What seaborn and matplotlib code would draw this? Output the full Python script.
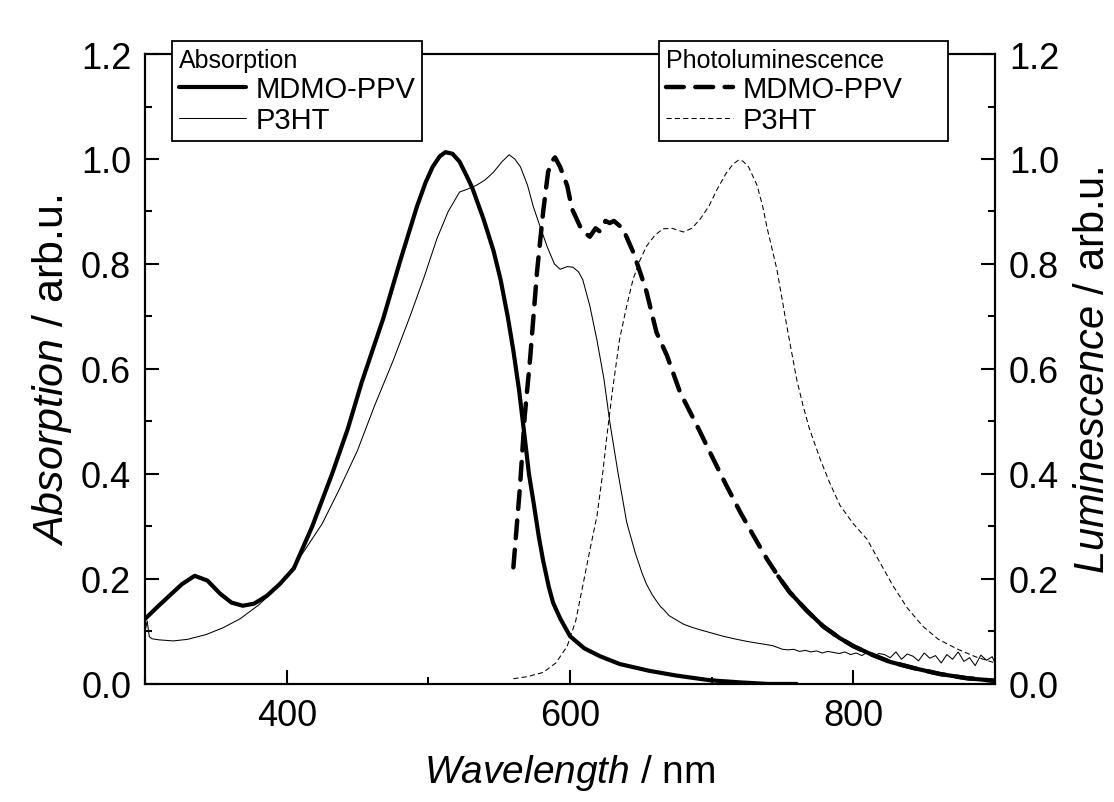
import matplotlib
matplotlib.use("Agg")
import matplotlib.pyplot as plt
import seaborn as sns
import numpy as np
import pandas as pd
from matplotlib.ticker import MultipleLocator, FormatStrFormatter

# ---------------- data ----------------
mdmo_abs_x = [300, 310, 318, 326, 335, 344, 353, 361, 369, 377, 386, 395, 405, 418, 432,
              443, 453, 468, 480, 492, 498, 503, 508, 512, 517, 522, 527, 531, 539, 546,
              551, 556, 560, 564, 568, 571, 574, 578, 581, 585, 588, 593, 600, 610, 621,
              635, 656, 675, 699, 720, 740, 760]
mdmo_abs_y = [0.124, 0.15, 0.17, 0.19, 0.206, 0.197, 0.172, 0.155, 0.149, 0.153, 0.168,
              0.19, 0.22, 0.30, 0.40, 0.485, 0.575, 0.695, 0.805, 0.91, 0.955, 0.985,
              1.005, 1.013, 1.01, 0.995, 0.968, 0.945, 0.885, 0.825, 0.77, 0.70, 0.635,
              0.56, 0.47, 0.40, 0.35, 0.28, 0.235, 0.185, 0.155, 0.125, 0.091, 0.068,
              0.053, 0.038, 0.025, 0.016, 0.007, 0.003, 0.0, 0.0]

p3ht_abs_x = [300, 301.5, 303, 305, 310, 320, 330, 343, 355, 367, 380, 390, 400, 412, 425,
              437, 450, 462, 475, 487, 497, 506, 514, 522, 528, 534, 540, 546, 552, 557,
              561, 565, 570, 574, 579, 584, 589, 593, 598, 602, 606, 609, 614, 619, 624,
              628, 634, 640, 646, 651, 654, 656, 658, 661, 664, 666, 670, 675, 680, 686,
              692, 700, 708, 716, 725, 734, 743,
              750, 754, 758, 762, 766, 770, 774, 778, 782, 786, 790, 794, 798, 802, 806,
              810, 814, 818, 822, 826, 830, 834, 838, 842, 846, 850, 854, 858, 862, 866,
              870, 874, 878, 882, 886, 890, 894, 898, 900]
p3ht_abs_y = [0.10, 0.12, 0.09, 0.086, 0.084, 0.082, 0.085, 0.094, 0.107, 0.124, 0.15,
              0.175, 0.205, 0.252, 0.305, 0.37, 0.445, 0.53, 0.615, 0.70, 0.775, 0.848,
              0.90, 0.937, 0.943, 0.95, 0.96, 0.975, 0.995, 1.008, 1.0, 0.985, 0.95, 0.91,
              0.87, 0.832, 0.80, 0.79, 0.795, 0.794, 0.785, 0.77, 0.72, 0.655, 0.58, 0.50,
              0.40, 0.308, 0.25, 0.21, 0.19, 0.18, 0.17, 0.158, 0.147, 0.142, 0.13, 0.122,
              0.114, 0.108, 0.103, 0.097, 0.091, 0.086, 0.081, 0.077, 0.073,
              0.066, 0.065, 0.066, 0.062, 0.064, 0.061, 0.063, 0.059, 0.062, 0.060, 0.058,
              0.061, 0.056, 0.059, 0.054, 0.061, 0.052, 0.058, 0.056, 0.050, 0.061, 0.047,
              0.057, 0.053, 0.044, 0.059, 0.049, 0.054, 0.040, 0.056, 0.047, 0.061, 0.043,
              0.050, 0.035, 0.055, 0.045, 0.052, 0.040]

mdmo_pl_x = [560, 564.7, 568, 571.8, 576.7, 581, 584.5, 587, 589.4, 593, 598, 601.4, 607,
             611, 614, 618, 621, 625, 628, 631, 634, 637.4, 644.5, 649.4, 654, 661, 668.5,
             677.6, 690, 701, 710, 720, 730, 739, 747, 755, 767, 778.6, 790, 800, 813,
             826, 843, 861, 880, 900]
mdmo_pl_y = [0.222, 0.377, 0.51, 0.619, 0.785, 0.899, 0.975, 0.995, 1.003, 0.985, 0.949,
             0.905, 0.872, 0.858, 0.852, 0.868, 0.862, 0.882, 0.878, 0.882, 0.875, 0.867,
             0.823, 0.785, 0.747, 0.67, 0.625, 0.556, 0.49, 0.429, 0.38, 0.328, 0.28,
             0.238, 0.205, 0.175, 0.14, 0.11, 0.088, 0.072, 0.056, 0.042, 0.03, 0.019,
             0.011, 0.006]

p3ht_pl_x = [560, 570, 581, 590, 598, 604, 609, 614, 619, 623, 626, 630, 635, 640, 644.5,
             649, 654, 660, 665.6, 672, 680, 686, 692, 698, 704, 710, 715, 719, 722, 726,
             732, 736, 739, 746, 753, 760, 764.5, 769, 776.5, 783, 790.6, 800, 809.6, 818,
             828, 838, 849, 860, 873, 886, 900]
p3ht_pl_y = [0.01, 0.014, 0.022, 0.04, 0.072, 0.12, 0.187, 0.255, 0.32, 0.40, 0.472, 0.56,
             0.657, 0.72, 0.771, 0.805, 0.834, 0.855, 0.867, 0.868, 0.861, 0.868, 0.886,
             0.91, 0.943, 0.972, 0.99, 0.998, 0.996, 0.985, 0.95, 0.91, 0.87, 0.79, 0.682,
             0.58, 0.53, 0.486, 0.429, 0.385, 0.34, 0.305, 0.276, 0.235, 0.187, 0.145,
             0.11, 0.085, 0.067, 0.052, 0.04]

abs_title = "Absorption"
pl_title = "Photoluminescence"
series_names = ["MDMO-PPV", "P3HT"]
xlim = (300, 900)
ylim = (0.0, 1.2)
pl_solid_from = 745  # where the thick dashed PL line turns continuous in the reference

# ---------------- style ----------------
sns.set_style("ticks")
plt.rcParams["font.family"] = ["Liberation Sans", "DejaVu Sans"]
plt.rcParams["mathtext.fontset"] = "custom"
plt.rcParams["mathtext.rm"] = "Liberation Sans"
plt.rcParams["mathtext.it"] = "Liberation Sans:italic"
plt.rcParams["axes.linewidth"] = 1.5
for k in ("text.color", "axes.labelcolor", "xtick.color", "ytick.color", "axes.edgecolor"):
    plt.rcParams[k] = "black"

fig = plt.figure(figsize=(11.14, 8.03), dpi=100)
ax = fig.add_axes([0.1302, 0.147, 0.763, 0.7845])
ax2 = ax.twinx()

df_ma = pd.DataFrame({"x": mdmo_abs_x, "y": mdmo_abs_y})
df_pa = pd.DataFrame({"x": p3ht_abs_x, "y": p3ht_abs_y})
df_mp = pd.DataFrame({"x": mdmo_pl_x, "y": mdmo_pl_y})
df_pp = pd.DataFrame({"x": p3ht_pl_x, "y": p3ht_pl_y})
df_mp_tail = df_mp[df_mp["x"] >= pl_solid_from]

sns.lineplot(data=df_ma, x="x", y="y", ax=ax, color="black", lw=3.0, errorbar=None)
sns.lineplot(data=df_pa, x="x", y="y", ax=ax, color="black", lw=0.75, errorbar=None)
sns.lineplot(data=df_mp, x="x", y="y", ax=ax2, color="black", lw=3.2, errorbar=None)
sns.lineplot(data=df_pp, x="x", y="y", ax=ax2, color="black", lw=0.75, errorbar=None)
sns.lineplot(data=df_mp_tail, x="x", y="y", ax=ax2, color="black", lw=3.0, errorbar=None)

l_ma, l_pa = ax.lines[0], ax.lines[1]
l_mp, l_pp = ax2.lines[0], ax2.lines[1]
l_mp.set_dashes((4, 2.6))
l_mp.set_dash_capstyle("round")
l_pp.set_dashes((5, 3))

for a in (ax, ax2):
    a.set_xlim(*xlim)
    a.set_ylim(*ylim)
    a.yaxis.set_major_locator(MultipleLocator(0.2))
    a.yaxis.set_minor_locator(MultipleLocator(0.1))
    a.tick_params(axis="both", which="major", direction="in", length=10, width=1.5,
                  labelsize=26, pad=10, colors="black")
    a.tick_params(axis="both", which="minor", direction="in", length=5, width=1.5)
    a.yaxis.set_major_formatter(FormatStrFormatter("%.1f"))
    a.set_xlabel("")
    a.set_ylabel("")

ax.xaxis.set_major_locator(MultipleLocator(200))
ax.xaxis.set_minor_locator(MultipleLocator(100))

ax.set_xlabel(r"$\mathit{Wavelength}$ / nm", fontsize=28, labelpad=14)
ax.set_ylabel(r"$\mathit{Absorption}$ / arb.u.", fontsize=31, labelpad=5)
ax2.set_ylabel(r"$\mathit{Luminescence}$ / arb.u.", fontsize=30, labelpad=10)

leg_kw = dict(fontsize=21, title_fontsize=18, frameon=True, fancybox=False,
              edgecolor="black", framealpha=1, borderaxespad=0, handlelength=2.3,
              handletextpad=0.3, labelspacing=0.1, borderpad=0.25,
              alignment="left", bbox_transform=fig.transFigure, loc="upper left")
leg1 = ax2.legend(handles=[l_ma, l_pa], labels=series_names, title=abs_title,
                  bbox_to_anchor=(0.1544, 0.9477), **leg_kw)
leg1.get_frame().set_linewidth(1.3)
ax2.add_artist(leg1)
leg2 = ax2.legend(handles=[l_mp, l_pp], labels=series_names,
                  title=pl_title + " " * 8,
                  bbox_to_anchor=(0.5916, 0.9477), **leg_kw)
leg2.get_frame().set_linewidth(1.3)
for lg in (leg1, leg2):
    lg.set_zorder(10)

fig.savefig("out.png", dpi=100)
